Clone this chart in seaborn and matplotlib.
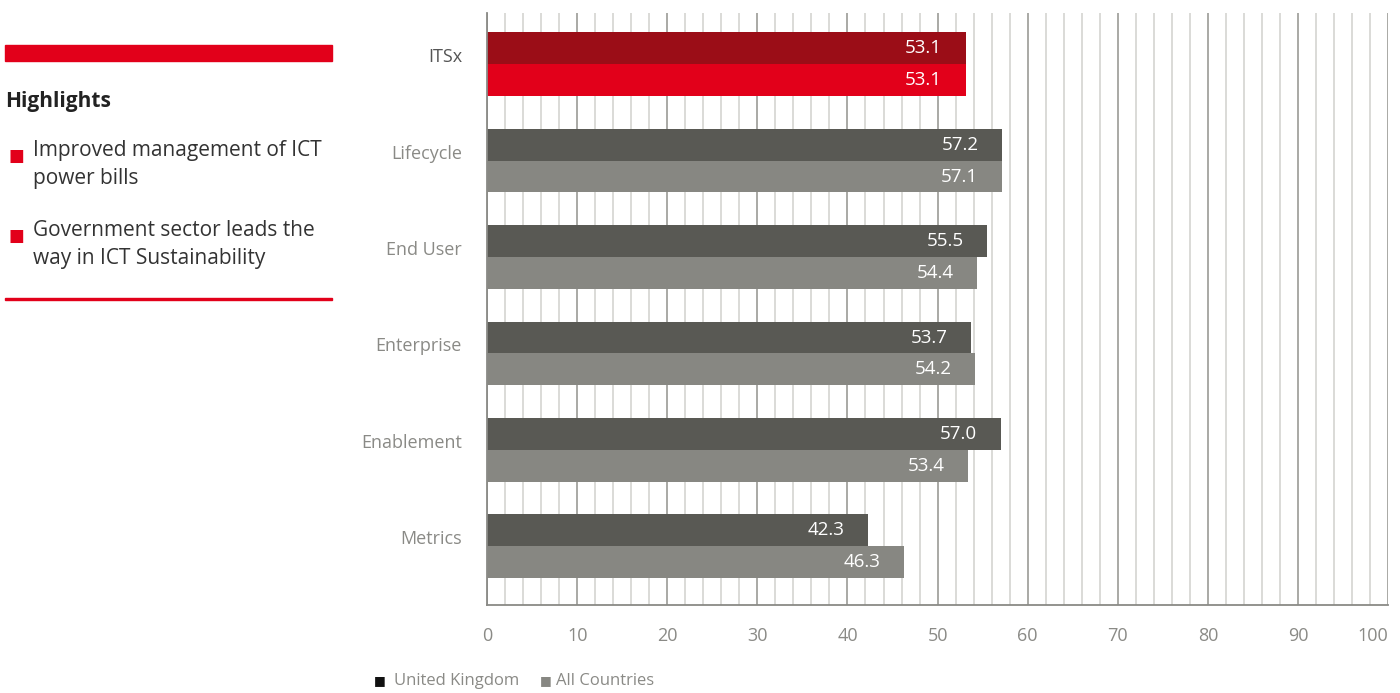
import numpy as np
import pandas as pd
import matplotlib.pyplot as plt
import matplotlib.transforms as mtrans
import seaborn as sns

# --- data ---
categories = ["ITSx", "Lifecycle", "End User", "Enterprise", "Enablement", "Metrics"]
series = ["United Kingdom", "All Countries"]
uk_values = [53.1, 57.2, 55.5, 53.7, 57.0, 42.3]
all_values = [53.1, 57.1, 54.4, 54.2, 53.4, 46.3]
x_ticks = [0, 10, 20, 30, 40, 50, 60, 70, 80, 90, 100]
highlights = ["Improved management of ICT\npower bills",
              "Government sector leads the\nway in ICT Sustainability"]

uk_color = "#595954"
all_color = "#878782"
itsx_uk_color = "#9b0d17"
itsx_all_color = "#e2001a"
label_grey = "#8a8a86"

df = pd.DataFrame({
    "category": categories * 2,
    "series": [series[0]] * len(categories) + [series[1]] * len(categories),
    "value": uk_values + all_values,
})

sns.set_theme(style="white")
plt.rcParams["font.family"] = ["Open Sans", "DejaVu Sans"]

fig = plt.figure(figsize=(14, 6.93), dpi=100)
ax = fig.add_axes([0.3479, 0.127, 0.6436, 0.854])

# grid lines behind the bars
for v in np.arange(0, 101, 2):
    major = v % 10 == 0
    ax.axvline(v, color="#a2a29e" if major else "#d8d8d4", lw=1.3, zorder=0)

sns.barplot(data=df, x="value", y="category", hue="series", order=categories,
            hue_order=series, palette=[uk_color, all_color], width=0.66,
            saturation=1, legend=False, linewidth=0, ax=ax, zorder=2)

# ITSx bars in red
ax.containers[0][0].set_facecolor(itsx_uk_color)
ax.containers[1][0].set_facecolor(itsx_all_color)

for cont, vals in zip(ax.containers, [uk_values, all_values]):
    for bar, v in zip(cont, vals):
        y = bar.get_y() + bar.get_height() / 2
        ax.text(v - 2.6, y, f"{v:.1f}", ha="right", va="center",
                color="white", fontsize=13.5, zorder=3)

ax.set_xlim(0, 100)
ax.set_ylim(5.61, -0.53)
ax.set_xticks(x_ticks)
ax.set_xticklabels([str(t) for t in x_ticks], color=label_grey, fontsize=13)
ax.get_xticklabels()[-1].set_ha("right")
ax.set_xlabel("")
ax.set_ylabel("")
ax.tick_params(axis="x", length=0, pad=16)
ax.tick_params(axis="y", length=0, pad=18)
shift = mtrans.ScaledTranslation(0, 9 / 100, fig.dpi_scale_trans)
for lbl in ax.get_yticklabels():
    lbl.set_fontsize(13)
    lbl.set_color("#555555" if lbl.get_text() == "ITSx" else label_grey)
    lbl.set_transform(lbl.get_transform() + shift)

for side in ["top", "right"]:
    ax.spines[side].set_visible(False)
for side in ["left", "bottom"]:
    ax.spines[side].set_color("#8a8a86")
    ax.spines[side].set_linewidth(1.3)

# legend line under the chart
ly = 1 - 681 / 693
fig.text(374 / 1400, ly, "\u25a0", color="#111111", fontsize=9, va="center")
fig.text(394 / 1400, ly, series[0], color=label_grey, fontsize=12, va="center")
fig.text(540 / 1400, ly, "\u25a0", color=all_color, fontsize=9, va="center")
fig.text(556 / 1400, ly, series[1], color=label_grey, fontsize=12, va="center")

# left highlights panel
fig.patches.append(plt.Rectangle((5 / 1400, 1 - 61 / 693), 327 / 1400, 16 / 693,
                                 transform=fig.transFigure, color="#e2001a"))
fig.text(5 / 1400, 1 - 101 / 693, "Highlights", fontsize=15, fontweight="bold",
         color="#222222", va="center")
bullet_y = [157, 237]
for by, txt in zip(bullet_y, highlights):
    fig.text(8 / 1400, 1 - by / 693, "\u25a0", color="#e2001a", fontsize=12, va="center")
    fig.text(33 / 1400, 1 - (by - 17) / 693, txt, fontsize=15, color="#333333",
             va="top", linespacing=1.45)
fig.patches.append(plt.Rectangle((5 / 1400, 1 - 300 / 693), 327 / 1400, 2.5 / 693,
                                 transform=fig.transFigure, color="#e2001a"))

fig.savefig("out.png", dpi=100)
